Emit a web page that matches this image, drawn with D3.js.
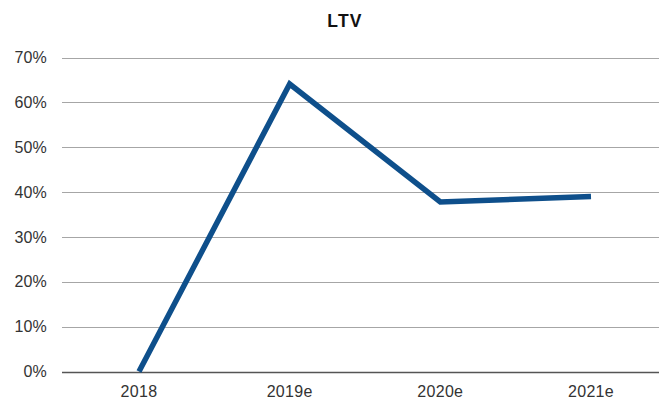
<!DOCTYPE html>
<html>
<head>
<meta charset="utf-8">
<script src="https://cdn.jsdelivr.net/npm/d3@7"></script>
<style>
  html, body { margin: 0; padding: 0; background: #fff; }
  svg { display: block; font-family: "Liberation Sans", Arial, sans-serif; }
</style>
</head>
<body>
<svg id="chart" width="659" height="398"></svg>
<script>
// Loan-to-value ratio by year
const categories = ["2018", "2019e", "2020e", "2021e"];
const ltvValues = [0, 64.1, 37.8, 39.0];
const yTicks = [0, 10, 20, 30, 40, 50, 60, 70];
const chartTitle = "LTV";

const svg = d3.select("#chart");
const W = 659, H = 398;
const margin = { left: 65, right: -7, top: 57.5, bottom: 26.5 };

const x = d3.scalePoint()
  .domain(categories)
  .range([margin.left + 74, W - margin.right - 75]);

const y = d3.scaleLinear()
  .domain([0, 70])
  .range([H - margin.bottom, margin.top]);

// horizontal gridlines
svg.append("g")
  .selectAll("line")
  .data(yTicks)
  .join("line")
  .attr("x1", 62)
  .attr("x2", W)
  .attr("y1", d => Math.round(y(d)) + 0.5)
  .attr("y2", d => Math.round(y(d)) + 0.5)
  .attr("stroke", d => d === 0 ? "#555" : "#a6a6a6")
  .attr("stroke-width", d => d === 0 ? 1.5 : 1);

// y-axis labels
svg.append("g")
  .selectAll("text")
  .data(yTicks)
  .join("text")
  .attr("x", 47)
  .attr("y", d => y(d))
  .attr("dy", "0.35em")
  .attr("text-anchor", "end")
  .attr("font-size", 16)
  .attr("letter-spacing", 0.2)
  .attr("fill", "#333")
  .text(d => d + "%");

// x-axis labels
svg.append("g")
  .selectAll("text")
  .data(categories)
  .join("text")
  .attr("x", d => x(d))
  .attr("y", 396.5)
  .attr("text-anchor", "middle")
  .attr("font-size", 16)
  .attr("letter-spacing", 0.3)
  .attr("fill", "#333")
  .text(d => d);

// series line
const line = d3.line()
  .x((d, i) => x(categories[i]))
  .y(d => y(d));

svg.append("path")
  .datum(ltvValues)
  .attr("d", line)
  .attr("fill", "none")
  .attr("stroke", "#0e4f8b")
  .attr("stroke-width", 5.5)
  .attr("stroke-linejoin", "miter")
  .attr("stroke-linecap", "butt");

// title
svg.append("text")
  .attr("x", 345)
  .attr("y", 27)
  .attr("text-anchor", "middle")
  .attr("font-size", 17.5)
  .attr("font-weight", "bold")
  .attr("letter-spacing", 1.2)
  .attr("fill", "#111")
  .text(chartTitle);
</script>
</body>
</html>
